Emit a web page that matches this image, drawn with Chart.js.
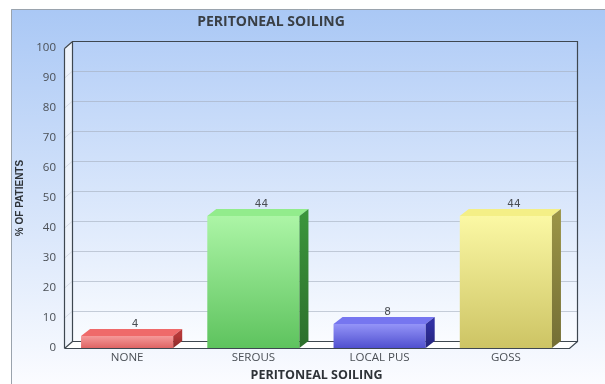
<!DOCTYPE html>
<html>
<head>
<meta charset="utf-8">
<script src="https://cdn.jsdelivr.net/npm/chart.js@4/dist/chart.umd.min.js"></script>
<style>
  html, body { margin: 0; padding: 0; background: #ffffff; }
  #wrap { width: 605px; height: 384px; position: relative; }
</style>
</head>
<body>
<div id="wrap"><canvas id="c" width="605" height="384"></canvas></div>
<script>
// ---- data ----
const categories = ['NONE', 'SEROUS', 'LOCAL PUS', 'GOSS'];
const values = [4, 44, 8, 44];
const yTickValues = [0, 10, 20, 30, 40, 50, 60, 70, 80, 90, 100];
const chartTitle = 'PERITONEAL SOILING';
const xAxisTitle = 'PERITONEAL SOILING';
const yAxisTitle = '% OF PATIENTS';

// ---- styles ----
const barStyles = [
  { frontTop: '#f59a9a', frontBottom: '#df6464', top: '#ef6a6a', side: '#b53838' },
  { frontTop: '#acf5a6', frontBottom: '#5ec35e', top: '#92ec8c', side: '#3b943b' },
  { frontTop: '#9494f8', frontBottom: '#5050cf', top: '#7676f0', side: '#3030a2' },
  { frontTop: '#fbf8a4', frontBottom: '#cdc464', top: '#f4ef86', side: '#9a9346' }
];
const WALL_DX = 8, WALL_DY = 7;
const BAR_DX = 9, BAR_DY = 7;

const depthPlugin = {
  id: 'depth3d',
  afterLayout(chart) {
    if (chart.titleBlock) {
      chart.titleBlock.left = 0;
      chart.titleBlock.right = 542;
    }
  },
  beforeDraw(chart) {
    const ctx = chart.ctx;
    const W = chart.width, H = chart.height;
    ctx.save();
    ctx.fillStyle = '#ffffff';
    ctx.fillRect(0, 0, W, H);
    const g = ctx.createLinearGradient(0, 10, 0, H);
    g.addColorStop(0, '#aac8f5');
    g.addColorStop(1, '#fbfcff');
    ctx.fillStyle = g;
    ctx.fillRect(11, 9, W - 11, H - 9);
    ctx.strokeStyle = '#9aa3ad';
    ctx.lineWidth = 1;
    ctx.beginPath();
    ctx.moveTo(11.5, H);
    ctx.lineTo(11.5, 9.5);
    ctx.lineTo(W, 9.5);
    ctx.stroke();
    ctx.restore();
  },
  beforeDatasetsDraw(chart) {
    const ctx = chart.ctx;
    const a = chart.chartArea;
    const ys = chart.scales.y;
    const L = a.left, R = a.right, T = a.top, B = a.bottom;
    ctx.save();
    const bg = ctx.createLinearGradient(0, T - WALL_DY, 0, B - WALL_DY);
    bg.addColorStop(0, '#b5cff7');
    bg.addColorStop(1, '#fafcff');
    ctx.fillStyle = bg;
    ctx.fillRect(L + WALL_DX, T - WALL_DY, R - L, B - T);
    ctx.fillStyle = '#eef3fb';
    ctx.beginPath();
    ctx.moveTo(L, T); ctx.lineTo(L + WALL_DX, T - WALL_DY);
    ctx.lineTo(L + WALL_DX, B - WALL_DY); ctx.lineTo(L, B); ctx.closePath();
    ctx.fill();
    ctx.fillStyle = '#ffffff';
    ctx.beginPath();
    ctx.moveTo(L, B); ctx.lineTo(L + WALL_DX, B - WALL_DY);
    ctx.lineTo(R + WALL_DX, B - WALL_DY); ctx.lineTo(R, B); ctx.closePath();
    ctx.fill();
    ctx.lineWidth = 1;
    yTickValues.forEach(v => {
      if (v === 0 || v === 100) return;
      const y = Math.round(ys.getPixelForValue(v)) + 0.5;
      ctx.strokeStyle = 'rgba(165,175,190,0.6)';
      ctx.beginPath();
      ctx.moveTo(L + WALL_DX, y - WALL_DY);
      ctx.lineTo(R + WALL_DX, y - WALL_DY);
      ctx.stroke();
      ctx.strokeStyle = 'rgba(165,175,190,0.35)';
      ctx.beginPath();
      ctx.moveTo(L, y);
      ctx.lineTo(L + WALL_DX, y - WALL_DY);
      ctx.stroke();
    });
    ctx.strokeStyle = '#3e4750';
    ctx.lineWidth = 1.2;
    ctx.beginPath();
    ctx.rect(L + WALL_DX + 0.5, T - WALL_DY + 0.5, R - L, B - T);
    ctx.moveTo(L + 0.5, T + 0.5); ctx.lineTo(L + WALL_DX + 0.5, T - WALL_DY + 0.5);
    ctx.moveTo(L + 0.5, T + 0.5); ctx.lineTo(L + 0.5, B + 0.5);
    ctx.moveTo(L + 0.5, B + 0.5); ctx.lineTo(R + 0.5, B + 0.5);
    ctx.lineTo(R + WALL_DX + 0.5, B - WALL_DY + 0.5);
    ctx.moveTo(L + 0.5, B + 0.5); ctx.lineTo(L + WALL_DX + 0.5, B - WALL_DY + 0.5);
    ctx.stroke();
    ctx.restore();
  },
  afterDatasetsDraw(chart) {
    const ctx = chart.ctx;
    const meta = chart.getDatasetMeta(0);
    ctx.save();
    meta.data.forEach((bar, i) => {
      const s = barStyles[i];
      const l = bar.x - bar.width / 2, r = bar.x + bar.width / 2;
      const t = bar.y, b = bar.base;
      ctx.fillStyle = s.top;
      ctx.beginPath();
      ctx.moveTo(l, t); ctx.lineTo(l + BAR_DX, t - BAR_DY);
      ctx.lineTo(r + BAR_DX, t - BAR_DY); ctx.lineTo(r, t); ctx.closePath();
      ctx.fill();
      const sg = ctx.createLinearGradient(0, t, 0, b);
      sg.addColorStop(0, s.side);
      sg.addColorStop(1, shade(s.side, -0.25));
      ctx.fillStyle = sg;
      ctx.beginPath();
      ctx.moveTo(r, t); ctx.lineTo(r + BAR_DX, t - BAR_DY);
      ctx.lineTo(r + BAR_DX, b - BAR_DY); ctx.lineTo(r, b); ctx.closePath();
      ctx.fill();
      ctx.fillStyle = '#4a4e54';
      ctx.font = '10.5px "DejaVu Sans", sans-serif';
      ctx.textAlign = 'center';
      ctx.textBaseline = 'middle';
      ctx.fillText(String(values[i]), bar.x + 8, t - BAR_DY - 5);
    });
    ctx.restore();
  }
};

function shade(hex, f) {
  const n = parseInt(hex.slice(1), 16);
  let r = (n >> 16) & 255, g = (n >> 8) & 255, b = n & 255;
  r = Math.round(r * (1 + f)); g = Math.round(g * (1 + f)); b = Math.round(b * (1 + f));
  return 'rgb(' + r + ',' + g + ',' + b + ')';
}

new Chart(document.getElementById('c'), {
  type: 'bar',
  data: {
    labels: categories,
    datasets: [{
      data: values,
      borderWidth: 0,
      backgroundColor(ctx) {
        const chart = ctx.chart;
        if (!chart.chartArea || ctx.dataIndex === undefined) return barStyles[ctx.dataIndex || 0].frontBottom;
        const s = barStyles[ctx.dataIndex];
        const ys = chart.scales.y;
        const top = ys.getPixelForValue(values[ctx.dataIndex]);
        const base = ys.getPixelForValue(0);
        const g = chart.ctx.createLinearGradient(0, top, 0, base);
        g.addColorStop(0, s.frontTop);
        g.addColorStop(1, s.frontBottom);
        return g;
      },
      barPercentage: 0.73,
      categoryPercentage: 1.0
    }]
  },
  plugins: [depthPlugin],
  options: {
    responsive: false,
    animation: false,
    layout: { padding: { left: 0, right: 36, top: 0, bottom: 0 } },
    plugins: {
      legend: { display: false },
      tooltip: { enabled: false },
      title: {
        display: true,
        text: chartTitle,
        color: '#3a3f45',
        font: { family: '"Open Sans", sans-serif', size: 14, weight: 'bold', lineHeight: 1.2 },
        padding: { top: 13.6, bottom: 17.6 }
      }
    },
    scales: {
      x: {
        grid: { display: false, drawTicks: false },
        border: { display: false },
        ticks: {
          color: '#4a4f55',
          font: { family: '"Open Sans", sans-serif', size: 11.5 },
          padding: 3
        },
        title: {
          display: true,
          text: xAxisTitle,
          color: '#2e3338',
          font: { family: '"Open Sans", sans-serif', size: 12.5, weight: 'bold', lineHeight: 1.2 },
          padding: { top: 0, bottom: 1 }
        },
        afterFit(s) { s.height = 36; }
      },
      y: {
        min: 0,
        max: 100,
        grid: { display: false, drawTicks: false },
        border: { display: false },
        afterBuildTicks(s) { s.ticks = yTickValues.map(v => ({ value: v })); },
        ticks: {
          color: '#4a4f55',
          font: { family: '"Open Sans", sans-serif', size: 11.5 },
          padding: 8
        },
        title: {
          display: true,
          text: yAxisTitle,
          color: '#2e3338',
          font: { family: '"Liberation Sans Narrow", "Liberation Sans", sans-serif', size: 10, weight: 'bold', lineHeight: 1.2 },
          padding: { top: 14, bottom: 0 }
        },
        afterFit(s) { s.width = 64; }
      }
    }
  }
});
</script>
</body>
</html>
